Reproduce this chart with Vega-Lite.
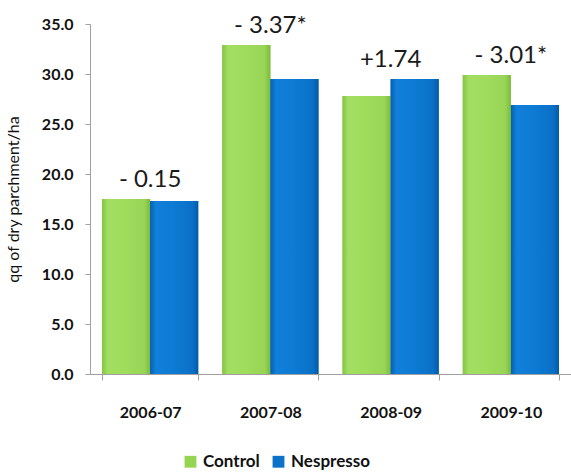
{
  "$schema": "https://vega.github.io/schema/vega-lite/v6.json",
  "autosize": {"type": "none"},
  "padding": {"left": 90, "top": 24, "right": 0, "bottom": 99},
  "width": 481,
  "height": 350,
  "background": "white",
  "config": {
    "view": {"stroke": null},
    "font": "Lato"
  },
  "data": {
    "values": [
      {"year": "2006-07", "group": "Control", "value": 17.5, "diff": "- 0.15"},
      {"year": "2006-07", "group": "Nespresso", "value": 17.3, "diff": "- 0.15"},
      {"year": "2007-08", "group": "Control", "value": 32.9, "diff": "- 3.37*"},
      {"year": "2007-08", "group": "Nespresso", "value": 29.5, "diff": "- 3.37*"},
      {"year": "2008-09", "group": "Control", "value": 27.8, "diff": "+1.74"},
      {"year": "2008-09", "group": "Nespresso", "value": 29.5, "diff": "+1.74"},
      {"year": "2009-10", "group": "Control", "value": 29.9, "diff": "- 3.01*"},
      {"year": "2009-10", "group": "Nespresso", "value": 26.9, "diff": "- 3.01*"}
    ]
  },
  "encoding": {
    "x": {
      "field": "year",
      "type": "nominal",
      "scale": {"paddingInner": 0.2, "paddingOuter": 0.1},
      "axis": {
        "title": null,
        "labelAngle": 0,
        "labelFont": "Lato",
        "labelFontWeight": "bold",
        "labelFontSize": 16,
        "labelColor": "#111",
        "labelPadding": 24,
        "ticks": true,
        "tickBand": "extent",
        "tickSize": 6,
        "tickColor": "#a0a0a0",
        "domainColor": "#a0a0a0",
        "domainWidth": 1
      }
    }
  },
  "layer": [
    {
      "mark": {"type": "bar"},
      "encoding": {
        "xOffset": {"field": "group", "type": "nominal", "scale": {"paddingInner": 0, "paddingOuter": 0}},
        "y": {
          "field": "value",
          "type": "quantitative",
          "scale": {"domain": [0, 35]},
          "axis": {
            "title": "qq of dry parchment/ha",
            "titleFont": "Lato",
            "titleFontWeight": "normal",
            "titleFontSize": 16,
            "titleColor": "#111",
            "titlePadding": 20,
            "values": [0, 5, 10, 15, 20, 25, 30, 35],
            "format": ".1f",
            "labelFont": "Lato",
            "labelFontWeight": "bold",
            "labelFontSize": 16,
            "labelColor": "#111",
            "labelPadding": 12,
            "grid": false,
            "tickColor": "#a0a0a0",
            "tickSize": 5,
            "domainColor": "#a0a0a0"
          }
        },
        "color": {
          "field": "group",
          "type": "nominal",
          "scale": {"domain": ["Control", "Nespresso"], "range": ["#96d551", "#0a72c8"]},
          "legend": {
            "title": null,
            "orient": "none",
            "direction": "horizontal",
            "legendX": 92,
            "legendY": 429,
            "symbolType": "square",
            "symbolSize": 140,
            "symbolStrokeWidth": 0,
            "labelFont": "Lato",
            "labelFontWeight": "bold",
            "labelFontSize": 17,
            "labelColor": "#111",
            "columnPadding": 10,
            "labelOffset": 4
          }
        }
      }
    },
    {
      "transform": [{"filter": "datum.group == 'Control'"}],
      "mark": {
        "type": "bar",
        "fill": {
          "x1": 0, "y1": 0, "x2": 1, "y2": 0,
          "gradient": "linear",
          "stops": [
            {"offset": 0, "color": "#84c440"},
            {"offset": 0.12, "color": "#a2de62"},
            {"offset": 0.5, "color": "#9fdc5c"},
            {"offset": 0.88, "color": "#98d556"},
            {"offset": 1, "color": "#7dba3c"}
          ]
        }
      },
      "encoding": {
        "xOffset": {"field": "group", "type": "nominal"},
        "y": {"field": "value", "type": "quantitative"}
      }
    },
    {
      "transform": [{"filter": "datum.group == 'Nespresso'"}],
      "mark": {
        "type": "bar",
        "fill": {
          "x1": 0, "y1": 0, "x2": 1, "y2": 0,
          "gradient": "linear",
          "stops": [
            {"offset": 0, "color": "#0560b0"},
            {"offset": 0.12, "color": "#1180da"},
            {"offset": 0.5, "color": "#0d7ad3"},
            {"offset": 0.88, "color": "#0a70c6"},
            {"offset": 1, "color": "#045aa6"}
          ]
        }
      },
      "encoding": {
        "xOffset": {"field": "group", "type": "nominal"},
        "y": {"field": "value", "type": "quantitative"}
      }
    },
    {
      "transform": [
        {"aggregate": [{"op": "max", "field": "value", "as": "top"}], "groupby": ["year", "diff"]}
      ],
      "mark": {"type": "text", "baseline": "alphabetic", "dy": -12, "font": "Lato", "fontSize": 24, "color": "#1a1a1a"},
      "encoding": {
        "y": {"field": "top", "type": "quantitative"},
        "text": {"field": "diff"}
      }
    }
  ]
}
